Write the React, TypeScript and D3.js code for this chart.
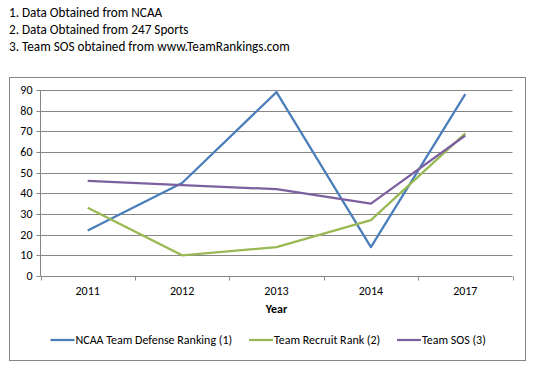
import { useEffect, useRef } from "react"
import * as d3 from "d3"

const years = ["2011", "2012", "2013", "2014", "2017"]
const defenseRank = [22, 45, 89, 14, 88]
const recruitRank = [33, 10, 14, 27, 69]
const teamSOS = [46, 44, 42, 35, 68]
const yTicks = [0, 10, 20, 30, 40, 50, 60, 70, 80, 90]
const notes = [
  "1. Data Obtained from NCAA",
  "2. Data Obtained from 247 Sports",
  "3. Team SOS obtained from www.TeamRankings.com",
]

const series = [
  { name: "NCAA Team Defense Ranking (1)", values: defenseRank, color: "#4a7ebb" },
  { name: "Team Recruit Rank (2)", values: recruitRank, color: "#98b954" },
  { name: "Team SOS (3)", values: teamSOS, color: "#7d60a0" },
]

const FONT = "Calibri, Carlito, 'Liberation Sans', sans-serif"

export default function App() {
  const svgRef = useRef<SVGSVGElement>(null)
  const width = 558
  const height = 372

  useEffect(() => {
    if (!svgRef.current) return
    const svg = d3.select(svgRef.current)
    svg.selectAll("*").remove()

    // notes above the chart
    svg
      .selectAll("text.note")
      .data(notes)
      .enter()
      .append("text")
      .attr("class", "note")
      .attr("x", 9)
      .attr("y", (d, i) => 16.5 + i * 17.3)
      .attr("font-family", FONT)
      .attr("font-size", "13.2px")
      .attr("fill", "#000")
      .text((d) => d)

    // chart frame
    svg
      .append("rect")
      .attr("x", 9.5)
      .attr("y", 77.5)
      .attr("width", 516)
      .attr("height", 283)
      .attr("fill", "#fff")
      .attr("stroke", "#868686")

    const plot = { left: 40.5, right: 512.5, top: 90, bottom: 276 }

    const x = d3.scaleBand().domain(years).range([plot.left, plot.right])
    const y = d3.scaleLinear().domain([0, 90]).range([plot.bottom, plot.top])

    // gridlines
    svg
      .append("g")
      .selectAll("line")
      .data(yTicks.filter((t) => t > 0))
      .enter()
      .append("line")
      .attr("x1", plot.left)
      .attr("x2", plot.right)
      .attr("y1", (d) => Math.round(y(d)) + 0.5)
      .attr("y2", (d) => Math.round(y(d)) + 0.5)
      .attr("stroke", "#868686")

    // y axis
    const yAxis = svg.append("g").attr("transform", `translate(${plot.left},0)`)
    yAxis
      .append("line")
      .attr("y1", plot.top)
      .attr("y2", plot.bottom)
      .attr("stroke", "#868686")
    yAxis
      .selectAll("line.tick")
      .data(yTicks)
      .enter()
      .append("line")
      .attr("class", "tick")
      .attr("x1", -4)
      .attr("x2", 0)
      .attr("y1", (d) => Math.round(y(d)) + 0.5)
      .attr("y2", (d) => Math.round(y(d)) + 0.5)
      .attr("stroke", "#868686")
    yAxis
      .selectAll("text")
      .data(yTicks)
      .enter()
      .append("text")
      .attr("x", -8)
      .attr("y", (d) => y(d) + 4)
      .attr("text-anchor", "end")
      .attr("font-family", FONT)
      .attr("font-size", "12px")
      .text((d) => d)

    // x axis
    const xAxis = svg.append("g").attr("transform", `translate(0,${Math.round(plot.bottom) + 0.5})`)
    xAxis
      .append("line")
      .attr("x1", plot.left)
      .attr("x2", plot.right)
      .attr("stroke", "#868686")
    const bounds = years.map((d) => x(d) || 0).concat([plot.right])
    xAxis
      .selectAll("line.tick")
      .data(bounds)
      .enter()
      .append("line")
      .attr("class", "tick")
      .attr("x1", (d) => Math.round(d) + 0.5)
      .attr("x2", (d) => Math.round(d) + 0.5)
      .attr("y1", 0)
      .attr("y2", 4)
      .attr("stroke", "#868686")
    xAxis
      .selectAll("text")
      .data(years)
      .enter()
      .append("text")
      .attr("x", (d) => (x(d) || 0) + x.bandwidth() / 2)
      .attr("y", 18)
      .attr("text-anchor", "middle")
      .attr("font-family", FONT)
      .attr("font-size", "12px")
      .text((d) => d)

    svg
      .append("text")
      .attr("x", (plot.left + plot.right) / 2)
      .attr("y", 313)
      .attr("text-anchor", "middle")
      .attr("font-family", FONT)
      .attr("font-size", "12px")
      .attr("font-weight", "bold")
      .text("Year")

    // lines
    const line = d3
      .line<number>()
      .x((d, i) => (x(years[i]) || 0) + x.bandwidth() / 2)
      .y((d) => y(d))

    series.forEach((s) => {
      svg
        .append("path")
        .datum(s.values)
        .attr("d", line)
        .attr("fill", "none")
        .attr("stroke", s.color)
        .attr("stroke-width", 2.25)
        .attr("stroke-linejoin", "round")
    })

    // legend
    const legendX = [50.5, 249, 397]
    const legend = svg
      .selectAll("g.legend")
      .data(series)
      .enter()
      .append("g")
      .attr("class", "legend")
      .attr("transform", (d, i) => `translate(${legendX[i]},340)`)
    legend
      .append("line")
      .attr("x1", 0)
      .attr("x2", 24)
      .attr("stroke", (d) => d.color)
      .attr("stroke-width", 2.25)
    legend
      .append("text")
      .attr("x", 25)
      .attr("y", 4)
      .attr("font-family", FONT)
      .attr("font-size", "12px")
      .text((d) => d.name)
  }, [])

  return (
    <svg
      ref={svgRef}
      width={width}
      height={height}
      style={{ position: "absolute", left: 0, top: 0, background: "#fff" }}
    ></svg>
  )
}
